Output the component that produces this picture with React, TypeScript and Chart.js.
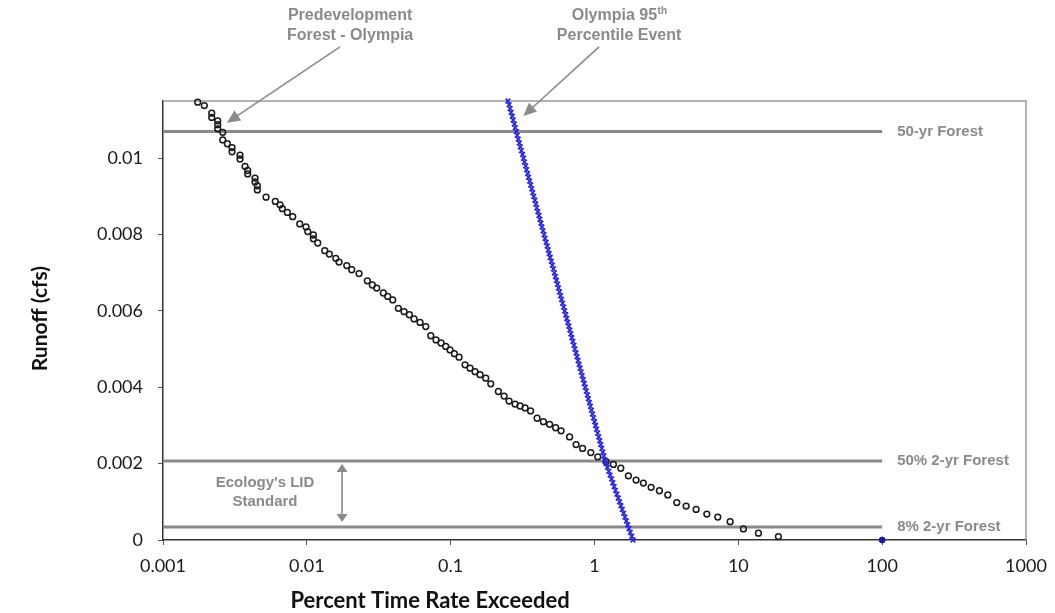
import React, { useEffect, useRef } from 'react';
import { Chart, registerables } from 'chart.js';

Chart.register(...registerables);

// ---------- data ----------
const xTickValues = [0.001, 0.01, 0.1, 1, 10, 100, 1000];
const yTickValues = [0, 0.002, 0.004, 0.006, 0.008, 0.01];

// Predevelopment Forest - Olympia (open circles)
const forestX = [
  0.001743, 0.001938, 0.002182, 0.002182, 0.002402, 0.002402, 0.002402, 0.002602, 0.002602, 0.0028,
  0.003019, 0.003019, 0.003431, 0.003431, 0.003718, 0.003882, 0.003882, 0.004363, 0.004363, 0.004527,
  0.004527, 0.005204, 0.006038, 0.006512, 0.006756, 0.007318, 0.007976, 0.008926, 0.009872, 0.01015,
  0.0111, 0.0111, 0.01191, 0.01332, 0.01434, 0.01589, 0.01675, 0.01895, 0.02052, 0.02307,
  0.02634, 0.02854, 0.03062, 0.03404, 0.03652, 0.03957, 0.04328, 0.04742, 0.05162, 0.05566,
  0.06126, 0.06713, 0.07272, 0.07914, 0.08574, 0.09245, 0.09904, 0.1061, 0.1144, 0.1259,
  0.1364, 0.1478, 0.1601, 0.1754, 0.1901, 0.2146, 0.2351, 0.2547, 0.2804, 0.3039,
  0.3292, 0.3594, 0.399, 0.4413, 0.4873, 0.5364, 0.5857, 0.671, 0.7447, 0.8264,
  0.9423, 1.054, 1.204, 1.353, 1.523, 1.721, 1.946, 2.188, 2.475, 2.827,
  3.234, 3.735, 4.335, 5.088, 6.038, 7.2, 8.77, 10.85, 13.8, 19.0,
];
const forestY = [
  0.01147, 0.01138, 0.01118, 0.01107, 0.01098, 0.01088, 0.01077, 0.01068, 0.01048, 0.01038,
  0.01028, 0.01017, 0.01008, 0.00998, 0.00979, 0.00968, 0.00959, 0.00948, 0.00938, 0.00928,
  0.00917, 0.00898, 0.00887, 0.00878, 0.00868, 0.00858, 0.00847, 0.00828, 0.0082, 0.00808,
  0.00799, 0.00789, 0.00778, 0.00758, 0.00749, 0.00738, 0.00728, 0.00719, 0.00708, 0.00698,
  0.00679, 0.00668, 0.0066, 0.00647, 0.00638, 0.00629, 0.00607, 0.00598, 0.0059, 0.00579,
  0.0057, 0.00559, 0.00535, 0.00524, 0.00516, 0.00507, 0.00498, 0.00488, 0.00479, 0.00459,
  0.0045, 0.00441, 0.00433, 0.00424, 0.00409, 0.00389, 0.00377, 0.00364, 0.00356, 0.00351,
  0.00346, 0.00338, 0.00319, 0.0031, 0.00303, 0.00294, 0.00286, 0.0027, 0.0025, 0.0024,
  0.00229, 0.00218, 0.00205, 0.00198, 0.00188, 0.00168, 0.00157, 0.00149, 0.00138, 0.00129,
  0.00118, 0.00098, 0.00089, 0.0008, 0.00068, 0.0006, 0.00048, 0.00029, 0.00018, 0.00009,
];

// Olympia 95th Percentile Event (blue crosses)
const eventX = [
  1.854, 1.814, 1.776, 1.738, 1.7, 1.664, 1.628, 1.594, 1.56, 1.526,
  1.494, 1.462, 1.431, 1.4, 1.37, 1.341, 1.313, 1.284, 1.257, 1.23,
  1.204, 1.18, 1.161, 1.142, 1.123, 1.105, 1.087, 1.069, 1.051, 1.034,
  1.017, 1.001, 0.984, 0.968, 0.952, 0.937, 0.922, 0.906, 0.892, 0.877,
  0.863, 0.849, 0.835, 0.821, 0.808, 0.794, 0.781, 0.769, 0.756, 0.744,
  0.731, 0.72, 0.708, 0.696, 0.685, 0.674, 0.663, 0.652, 0.641, 0.631,
  0.62, 0.61, 0.6, 0.59, 0.581, 0.571, 0.562, 0.553, 0.544, 0.535,
  0.526, 0.518, 0.509, 0.501, 0.492, 0.484, 0.477, 0.469, 0.461, 0.453,
  0.446, 0.439, 0.431, 0.424, 0.417, 0.411, 0.404, 0.397, 0.391, 0.385,
  0.378, 0.372, 0.366, 0.36, 0.354, 0.348, 0.343, 0.337, 0.332, 0.326,
  0.321, 0.316, 0.31, 0.305, 0.3, 0.295, 0.29, 0.286, 0.281, 0.277,
  0.272, 0.268, 0.263, 0.259, 0.255, 0.25,
];
const eventY = [
  0, 0.0001, 0.0002, 0.0003, 0.0004, 0.0005, 0.0006, 0.0007, 0.0008, 0.0009,
  0.001, 0.0011, 0.0012, 0.0013, 0.0014, 0.0015, 0.0016, 0.0017, 0.0018, 0.0019,
  0.002, 0.0021, 0.0022, 0.0023, 0.0024, 0.0025, 0.0026, 0.0027, 0.0028, 0.0029,
  0.003, 0.0031, 0.0032, 0.0033, 0.0034, 0.0035, 0.0036, 0.0037, 0.0038, 0.0039,
  0.004, 0.0041, 0.0042, 0.0043, 0.0044, 0.0045, 0.0046, 0.0047, 0.0048, 0.0049,
  0.005, 0.0051, 0.0052, 0.0053, 0.0054, 0.0055, 0.0056, 0.0057, 0.0058, 0.0059,
  0.006, 0.0061, 0.0062, 0.0063, 0.0064, 0.0065, 0.0066, 0.0067, 0.0068, 0.0069,
  0.007, 0.0071, 0.0072, 0.0073, 0.0074, 0.0075, 0.0076, 0.0077, 0.0078, 0.0079,
  0.008, 0.0081, 0.0082, 0.0083, 0.0084, 0.0085, 0.0086, 0.0087, 0.0088, 0.0089,
  0.009, 0.0091, 0.0092, 0.0093, 0.0094, 0.0095, 0.0096, 0.0097, 0.0098, 0.0099,
  0.01, 0.0101, 0.0102, 0.0103, 0.0104, 0.0105, 0.0106, 0.0107, 0.0108, 0.0109,
  0.011, 0.0111, 0.0112, 0.0113, 0.0114, 0.0115,
];

// single marker at 100 %
const markerX = [100];
const markerY = [0];

// reference (horizontal) lines
const refNames = ['50-yr Forest', '50% 2-yr Forest', '8% 2-yr Forest'];
const refValues = [0.0107, 0.00207, 0.00034];
const refStartX = 0.001;
const refEndX = 100;

const xTitle = 'Percent Time Rate Exceeded';
const yTitle = 'Runoff (cfs)';

// ---------- styling ----------
const GRAY = '#8a8a8a';
const TICK_FONT = 'Lato, "DejaVu Sans", sans-serif';
const ANN_FONT = '"Liberation Sans", Arial, sans-serif';

function drawArrowHead(ctx: CanvasRenderingContext2D, x1: number, y1: number, x2: number, y2: number, len: number, half: number) {
  const a = Math.atan2(y2 - y1, x2 - x1);
  ctx.beginPath();
  ctx.moveTo(x2, y2);
  ctx.lineTo(x2 - len * Math.cos(a) + half * Math.sin(a), y2 - len * Math.sin(a) - half * Math.cos(a));
  ctx.lineTo(x2 - len * Math.cos(a) - half * Math.sin(a), y2 - len * Math.sin(a) + half * Math.cos(a));
  ctx.closePath();
  ctx.fill();
}

const decorPlugin = {
  id: 'decor',
  beforeDatasetsDraw(chart: any) {
    const { ctx, chartArea } = chart;
    ctx.save();
    ctx.strokeStyle = '#9a9a9a';
    ctx.lineWidth = 1.5;
    ctx.beginPath();
    ctx.moveTo(chartArea.left, chartArea.top);
    ctx.lineTo(chartArea.right, chartArea.top);
    ctx.lineTo(chartArea.right, chartArea.bottom);
    ctx.stroke();
    ctx.restore();
  },
  afterDraw(chart: any) {
    const { ctx, chartArea } = chart;
    const xs = chart.scales.x;
    const ys = chart.scales.y;
    const px = (v: number) => xs.getPixelForValue(v);
    const py = (v: number) => ys.getPixelForValue(v);
    ctx.save();

    // axis titles
    ctx.fillStyle = '#111';
    ctx.font = `bold 22px ${TICK_FONT}`;
    ctx.textAlign = 'center';
    ctx.textBaseline = 'middle';
    ctx.fillText(xTitle, px(0.0719), chartArea.bottom + 61);
    ctx.font = `bold 21px ${TICK_FONT}`;
    ctx.save();
    ctx.translate(40, py(0.0058));
    ctx.rotate(-Math.PI / 2);
    ctx.fillText(yTitle, 0, 0);
    ctx.restore();

    // reference line labels
    ctx.fillStyle = GRAY;
    ctx.font = `bold 15px ${ANN_FONT}`;
    ctx.textAlign = 'left';
    refNames.forEach((n, i) => {
      ctx.fillText(n, px(refEndX) + 15, py(refValues[i]));
    });

    // annotation texts
    ctx.font = `bold 16px ${ANN_FONT}`;
    ctx.textAlign = 'center';
    ctx.fillText('Predevelopment', px(0.02), py(0.01373));
    ctx.fillText('Forest - Olympia', px(0.02), py(0.01322));

    const cx = px(1.483);
    const l1 = 'Olympia 95';
    const sup = 'th';
    const w1 = ctx.measureText(l1).width;
    ctx.font = `bold 10px ${ANN_FONT}`;
    const w2 = ctx.measureText(sup).width;
    const startX = cx - (w1 + w2) / 2;
    ctx.font = `bold 16px ${ANN_FONT}`;
    ctx.textAlign = 'left';
    ctx.fillText(l1, startX, py(0.01373));
    ctx.font = `bold 10px ${ANN_FONT}`;
    ctx.fillText(sup, startX + w1 + 0.5, py(0.01373) - 5);
    ctx.font = `bold 16px ${ANN_FONT}`;
    ctx.textAlign = 'center';
    ctx.fillText('Percentile Event', cx, py(0.01322));

    ctx.font = `bold 15px ${ANN_FONT}`;
    ctx.fillText("Ecology's LID", px(0.00512), py(0.001494));
    ctx.fillText('Standard', px(0.00512), py(0.000996));

    // arrows
    ctx.strokeStyle = GRAY;
    ctx.fillStyle = GRAY;
    ctx.lineWidth = 1.6;
    const arrows = [
      [0.01702, 0.01292, 0.002786, 0.01093],
      [1.076, 0.01292, 0.3203, 0.01111],
    ];
    arrows.forEach(([ax, ay, bx, by]) => {
      const x1 = px(ax), y1 = py(ay), x2 = px(bx), y2 = py(by);
      ctx.beginPath();
      ctx.moveTo(x1, y1);
      ctx.lineTo(x2 + (x1 - x2) * 0.06, y2 + (y1 - y2) * 0.06);
      ctx.stroke();
      drawArrowHead(ctx, x1, y1, x2, y2, 13, 6);
    });
    // double arrow
    const dx = px(0.01757);
    const dy1 = py(0.001992), dy2 = py(0.000472);
    ctx.beginPath();
    ctx.moveTo(dx, dy1 + 6);
    ctx.lineTo(dx, dy2 - 6);
    ctx.stroke();
    drawArrowHead(ctx, dx, dy2, dx, dy1, 8, 5.5);
    drawArrowHead(ctx, dx, dy1, dx, dy2, 8, 5.5);

    ctx.restore();
  },
};

export default function App() {
  const ref = useRef<HTMLCanvasElement | null>(null);

  useEffect(() => {
    if (!ref.current) return;
    const chart = new Chart(ref.current, {
      type: 'scatter',
      data: {
        datasets: [
          {
            label: 'Olympia 95th Percentile Event',
            data: eventX.map((x, i) => ({ x, y: eventY[i] })),
            pointStyle: 'crossRot',
            pointRadius: 3.3,
            borderColor: '#2424e8',
            backgroundColor: '#2424e8',
            borderWidth: 1.6,
            clip: false,
          } as any,
          {
            label: 'marker',
            data: markerX.map((x, i) => ({ x, y: markerY[i] })),
            pointStyle: 'circle',
            pointRadius: 3,
            borderColor: '#1a1aa0',
            backgroundColor: '#1a1aa0',
            borderWidth: 1,
            clip: false,
          } as any,
          {
            label: 'Predevelopment Forest - Olympia',
            data: forestX.map((x, i) => ({ x, y: forestY[i] })),
            pointStyle: 'circle',
            pointRadius: 2.9,
            borderColor: '#1a1a1a',
            backgroundColor: 'rgba(255,255,255,0)',
            borderWidth: 1.5,
            clip: false,
          } as any,
          ...refValues.map((v, i) => ({
            type: 'line',
            label: refNames[i],
            data: [
              { x: refStartX, y: v },
              { x: refEndX, y: v },
            ],
            borderColor: GRAY,
            borderWidth: 3,
            pointRadius: 0,
            showLine: true,
            clip: false,
          })) as any,
        ],
      },
      options: {
        responsive: false,
        animation: false,
        layout: { padding: { left: 0, top: 101, right: 29, bottom: 0 } },
        plugins: { legend: { display: false }, tooltip: { enabled: false } },
        scales: {
          x: {
            type: 'logarithmic',
            min: 0.001,
            max: 1000,
            afterBuildTicks: (s: any) => {
              s.ticks = xTickValues.map((v) => ({ value: v }));
            },
            afterFit: (s: any) => {
              s.height = 73;
              s.paddingLeft = 0;
              s.paddingRight = 0;
            },
            ticks: {
              callback: (v: any) => String(v),
              autoSkip: false,
              maxRotation: 0,
              color: '#1a1a1a',
              font: { family: TICK_FONT, size: 18 },
              padding: 10,
            },
            grid: { drawOnChartArea: false, drawTicks: true, tickLength: 5, color: '#555' },
            border: { color: '#333', width: 1.5 },
          },
          y: {
            type: 'linear',
            min: 0,
            max: 0.0115,
            afterBuildTicks: (s: any) => {
              s.ticks = yTickValues.map((v) => ({ value: v }));
            },
            afterFit: (s: any) => {
              s.width = 163;
              s.paddingTop = 0;
              s.paddingBottom = 0;
            },
            ticks: {
              callback: (v: any) => (v === 0 ? '0' : String(+Number(v).toFixed(4))),
              color: '#1a1a1a',
              font: { family: TICK_FONT, size: 18 },
              padding: 15,
            },
            grid: { drawOnChartArea: false, drawTicks: true, tickLength: 5, color: '#555' },
            border: { color: '#333', width: 1.5 },
          },
        },
      } as any,
      plugins: [decorPlugin],
    });
    return () => chart.destroy();
  }, []);

  return (
    <div style={{ position: 'absolute', left: 0, top: 0, width: 1055, height: 613, background: '#fff' }}>
      <canvas ref={ref} width={1055} height={613} />
    </div>
  );
}
